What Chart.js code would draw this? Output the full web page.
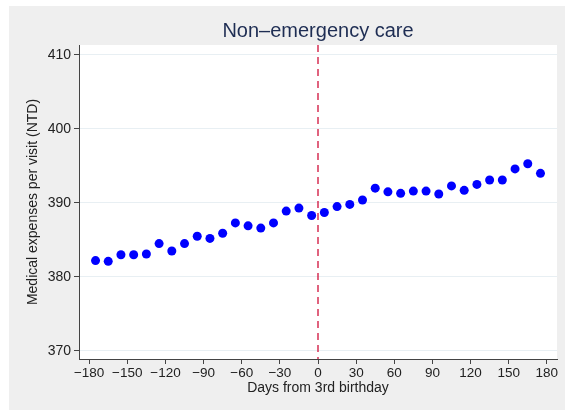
<!DOCTYPE html>
<html>
<head>
<meta charset="utf-8">
<script src="https://cdn.jsdelivr.net/npm/chart.js@4"></script>
<style>
  html, body { margin: 0; padding: 0; background: #fff; }
  #wrap { width: 565px; height: 411px; }
</style>
</head>
<body>
<div id="wrap"><canvas id="chart" width="565" height="411"></canvas></div>
<script>
// days from 3rd birthday (10-day bins, centre of each bin)
const days = [-175, -165, -155, -145, -135, -125, -115, -105, -95, -85, -75, -65, -55, -45, -35, -25, -15, -5,
              5, 15, 25, 35, 45, 55, 65, 75, 85, 95, 105, 115, 125, 135, 145, 155, 165, 175];
// medical expenses per visit (NTD)
const expenses = [382.2, 382.1, 383.0, 383.0, 383.1, 384.5, 383.5, 384.5, 385.5, 385.2, 385.9, 387.3, 386.9, 386.6, 387.3, 388.9, 389.3, 388.3,
                  388.7, 389.5, 389.8, 390.4, 392.0, 391.5, 391.3, 391.6, 391.6, 391.2, 392.3, 391.7, 392.5, 393.1, 393.1, 394.6, 395.3, 394.0];
const xTicks = [-180, -150, -120, -90, -60, -30, 0, 30, 60, 90, 120, 150, 180];
const yTicks = [370, 380, 390, 400, 410];
const cutoff = 0;

const points = days.map((d, i) => ({ x: d, y: expenses[i] }));
const fmt = v => (v < 0 ? '\u2212' + Math.abs(v) : String(v));

// gray page background + white plot region
const backdrop = {
  id: 'backdrop',
  beforeDraw(chart) {
    const ctx = chart.ctx, a = chart.chartArea;
    ctx.save();
    ctx.fillStyle = '#ffffff';
    ctx.fillRect(0, 0, chart.width, chart.height);
    ctx.fillStyle = '#efefef';
    ctx.fillRect(9, 6, chart.width - 9, 404);
    ctx.fillStyle = '#ffffff';
    ctx.fillRect(a.left, a.top, a.right - a.left, a.bottom - a.top);
    ctx.restore();
  }
};

// title centred over the plot + dashed cutoff line
const extras = {
  id: 'extras',
  afterDatasetsDraw(chart) {
    const ctx = chart.ctx, a = chart.chartArea;
    const x = chart.scales.x.getPixelForValue(cutoff);
    ctx.save();
    ctx.strokeStyle = '#d0103a';
    ctx.lineWidth = 1.3;
    ctx.setLineDash([7, 5]);
    ctx.beginPath();
    ctx.moveTo(x, a.top);
    ctx.lineTo(x, a.bottom);
    ctx.stroke();
    ctx.restore();

    ctx.save();
    ctx.fillStyle = '#1e2d53';
    ctx.font = '20px "Liberation Sans", Arial, sans-serif';
    ctx.textAlign = 'center';
    ctx.textBaseline = 'middle';
    ctx.fillText('Non\u2013emergency care', (a.left + a.right) / 2, 31);
    ctx.restore();
  }
};

Chart.defaults.font.family = '"Liberation Sans", Arial, sans-serif';
Chart.defaults.color = '#222';

new Chart(document.getElementById('chart'), {
  type: 'scatter',
  data: {
    datasets: [{
      data: points,
      backgroundColor: '#0000ff',
      borderColor: '#0000ff',
      borderWidth: 0,
      pointRadius: 4.5,
      pointHoverRadius: 4.5
    }]
  },
  options: {
    responsive: false,
    animation: false,
    events: [],
    layout: { padding: { top: 45, right: 8, left: 0, bottom: 0 } },
    plugins: { legend: { display: false }, tooltip: { enabled: false } },
    scales: {
      x: {
        type: 'linear',
        min: -188,
        max: 188,
        afterBuildTicks: s => { s.ticks = xTicks.map(v => ({ value: v })); },
        afterFit: s => { s.height = 52; },
        ticks: { callback: v => fmt(v), font: { size: 13.5 }, padding: 1, maxRotation: 0, autoSkip: false, color: '#222' },
        grid: { drawOnChartArea: false, tickLength: 5, tickColor: '#444', color: '#444' },
        border: { color: '#444', width: 1 },
        title: { display: true, text: 'Days from 3rd birthday', font: { size: 14 }, color: '#222', padding: { top: 14.6, bottom: 14.6 } }
      },
      y: {
        type: 'linear',
        min: 368.9,
        max: 411.35,
        afterBuildTicks: s => { s.ticks = yTicks.map(v => ({ value: v })); },
        afterFit: s => { s.width = 79; },
        ticks: { font: { size: 14 }, padding: 3, color: '#222' },
        grid: { color: '#e8eff3', lineWidth: 1, tickLength: 5, tickColor: '#444' },
        border: { color: '#444', width: 1 },
        title: { display: true, text: 'Medical expenses per visit (NTD)', font: { size: 14 }, color: '#222', padding: { top: 24.6, bottom: 24.6 } }
      }
    }
  },
  plugins: [backdrop, extras]
});
</script>
</body>
</html>
